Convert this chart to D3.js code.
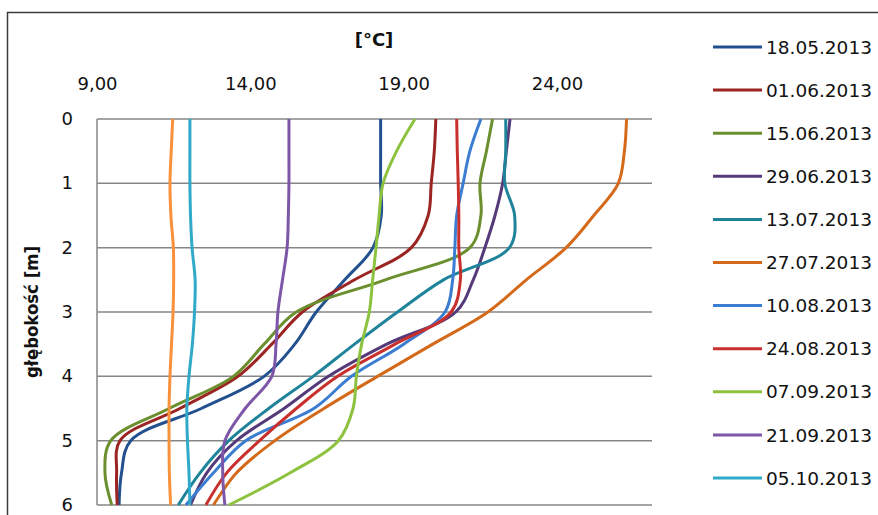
<!DOCTYPE html>
<html>
<head>
<meta charset="utf-8">
<script src="https://cdn.jsdelivr.net/npm/d3@7"></script>
<style>
	body { margin: 0; background: #fff; }
	svg { display: block; font-family: "DejaVu Sans", Verdana, sans-serif; }
</style>
</head>
<body>
<div id="chart"></div>
<script>
// depth of each reading [m]
var depths = [0, 0.5, 1, 1.5, 2, 2.5, 3, 3.5, 4, 4.5, 5, 5.5, 6];

// measurement dates (legend)
var dates = ["18.05.2013", "01.06.2013", "15.06.2013", "29.06.2013", "13.07.2013", "27.07.2013",
	"10.08.2013", "24.08.2013", "07.09.2013", "21.09.2013", "05.10.2013", "19.10.2013"];

// temperature [°C] at each depth, one array per date
var t1805 = [18.25, 18.25, 18.25, 18.27, 18.0, 17.08, 16.15, 15.45, 14.45, 12.4, 10.1, 9.8, 9.72];
var t0106 = [20.05, 20.0, 19.9, 19.8, 19.25, 17.4, 15.7, 14.7, 13.6, 11.7, 9.75, 9.64, 9.66];
var t1506 = [21.9, 21.7, 21.49, 21.52, 21.16, 18.4, 15.5, 14.45, 13.45, 11.35, 9.45, 9.26, 9.48];
var t2906 = [22.47, 22.35, 22.23, 21.98, 21.65, 21.27, 20.7, 18.45, 16.55, 15.1, 13.55, 12.58, 12.05];
var t1307 = [22.33, 22.33, 22.3, 22.62, 22.45, 20.3, 18.8, 17.4, 16.05, 14.6, 13.3, 12.36, 11.65];
var t2707 = [26.27, 26.2, 26.0, 25.2, 24.3, 23.0, 21.75, 19.95, 18.15, 16.4, 14.8, 13.55, 12.8];
var t1008 = [21.52, 21.16, 20.94, 20.73, 20.67, 20.6, 20.35, 19.0, 17.3, 16.07, 13.85, 12.8, 11.9];
var t2408 = [20.73, 20.75, 20.78, 20.8, 20.8, 20.85, 20.55, 18.72, 16.85, 15.5, 14.3, 13.23, 12.55];
var t0709 = [19.37, 18.77, 18.33, 18.2, 18.1, 17.99, 17.88, 17.63, 17.46, 17.35, 16.87, 15.3, 13.3];
var t2109 = [15.26, 15.26, 15.26, 15.24, 15.2, 15.05, 14.9, 14.84, 14.7, 13.83, 13.17, 13.1, 13.17];
var t0510 = [12.03, 12.03, 12.03, 12.05, 12.1, 12.2, 12.18, 12.11, 12.0, 11.93, 11.95, 12.0, 12.03];
var t1910 = [11.47, 11.42, 11.38, 11.41, 11.49, 11.5, 11.48, 11.43, 11.38, 11.35, 11.35, 11.36, 11.4];

// axis ticks
var tempTicks = [9, 14, 19, 24];
var depthTicks = [0, 1, 2, 3, 4, 5, 6];

var palette = ["#23518f", "#9b2522", "#6b8f2e", "#553a7a", "#1f8499", "#d5691a",
	"#3b7dd0", "#c9302d", "#8dc23f", "#7d56a8", "#31a9c9", "#f8923a"];

var temps = [t1805, t0106, t1506, t2906, t1307, t2707, t1008, t2408, t0709, t2109, t0510, t1910];
var series = dates.map(function(d, i) {
	return { label: d, color: palette[i], values: depths.map(function(z, j) { return { depth: z, t: temps[i][j] }; }) };
});

var W = 878, H = 515;
var svg = d3.select("#chart").append("svg").attr("width", W).attr("height", H);

svg.append("rect").attr("width", W).attr("height", H).attr("fill", "#fff");
svg.append("rect")
	.attr("x", 7.5).attr("y", 12.5).attr("width", 900).attr("height", 600)
	.attr("fill", "none").attr("stroke", "#3c3c3c").attr("stroke-width", 1.5);

var x = d3.scaleLinear().domain([9, 27.1]).range([97, 652]);
var y = d3.scaleLinear().domain([0, 6]).range([119, 505]);

var pl = d3.formatLocale({ decimal: ",", thousands: " ", grouping: [3], currency: ["", " zł"] });
var fmt = pl.format(".2f");

// grid
svg.append("g").selectAll("line").data(depthTicks).enter().append("line")
	.attr("x1", x(9)).attr("x2", x.range()[1])
	.attr("y1", function(d) { return y(d); }).attr("y2", function(d) { return y(d); })
	.attr("stroke", "#868686").attr("stroke-width", 1.5);
svg.append("line")
	.attr("x1", x(9)).attr("x2", x(9)).attr("y1", y(0)).attr("y2", y(6))
	.attr("stroke", "#868686").attr("stroke-width", 1.5);

// axes
var xAxis = svg.append("g").attr("transform", "translate(0," + y(0) + ")")
	.call(d3.axisTop(x).tickValues(tempTicks).tickFormat(fmt).tickSize(0).tickPadding(29));
var yAxis = svg.append("g").attr("transform", "translate(" + x(9) + ",0)")
	.call(d3.axisLeft(y).tickValues(depthTicks).tickFormat(d3.format("d")).tickSize(0).tickPadding(24));
[xAxis, yAxis].forEach(function(a) {
	a.select(".domain").remove();
	a.selectAll("text").attr("font-family", "DejaVu Sans").style("font-size", "18px").attr("fill", "#111");
});
yAxis.selectAll("text").attr("dy", "0.3em");

svg.append("text")
	.attr("x", 374).attr("y", 46).attr("text-anchor", "middle")
	.attr("font-weight", "bold").style("font-size", "18px").attr("fill", "#111")
	.text("[°C]");
svg.append("text")
	.attr("transform", "translate(38," + ((y(0) + y(6)) / 2) + ") rotate(-90)")
	.attr("text-anchor", "middle").attr("font-weight", "bold")
	.attr("textLength", 132).attr("lengthAdjust", "spacingAndGlyphs")
	.style("font-size", "17px").attr("fill", "#111")
	.text("głębokość [m]");

// lines
var line = d3.line()
	.x(function(d) { return x(d.t); })
	.y(function(d) { return y(d.depth); })
	.curve(d3.curveCatmullRom);

svg.append("g").selectAll("path").data(series).enter().append("path")
	.attr("d", function(s) { return line(s.values); })
	.attr("fill", "none")
	.attr("stroke", function(s) { return s.color; })
	.attr("stroke-width", 3)
	.attr("stroke-linejoin", "round");

// legend (the last entry falls below the visible frame)
var lg = svg.append("g").selectAll("g").data(series.slice(0, 11)).enter().append("g")
	.attr("transform", function(s, i) { return "translate(713," + (47 + i * 43.1) + ")"; });
lg.append("line").attr("x1", 0).attr("x2", 49)
	.attr("stroke", function(s) { return s.color; }).attr("stroke-width", 3);
lg.append("text").attr("x", 53).attr("dy", "0.36em")
	.style("font-size", "18.5px").attr("fill", "#111")
	.text(function(s) { return s.label; });
</script>
</body>
</html>
